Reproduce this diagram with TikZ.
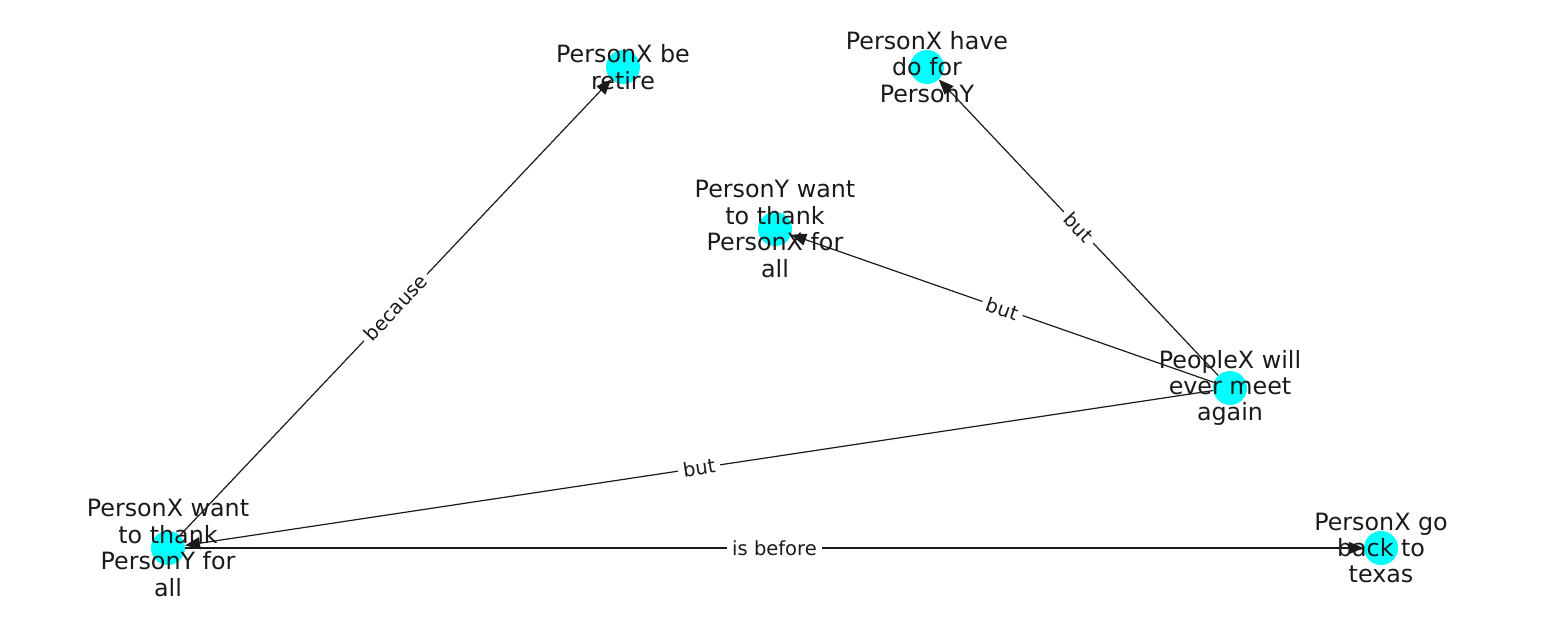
\documentclass[tikz,border=0pt]{standalone}
\usepackage{fontspec}
\setmainfont{DejaVu Sans}
\usetikzlibrary{arrows.meta}
\definecolor{aqua}{RGB}{0,255,255}
\definecolor{ink}{RGB}{26,26,26}
\begin{document}
\begin{tikzpicture}[x=1pt,y=-1pt,
  dot/.style={circle,fill=aqua,draw=none,minimum size=34pt,inner sep=0pt},
  lbl/.style={align=center,text=ink,font=\fontsize{23.8}{26.4}\selectfont,inner sep=0pt},
  rel/.style={draw=ink,line width=1.2pt,-{Triangle[length=15pt,width=12pt]}},
  rellbl/.style={sloped,fill=white,inner sep=5pt,text=ink,font=\fontsize{19.5}{22}\selectfont}]
\useasboundingbox (0,0) rectangle (1550,616);
% nodes
\node[dot] (retire) at (623,67) {};
\node[dot] (havedo) at (927,67) {};
\node[dot] (ythank) at (775,229) {};
\node[dot] (meet) at (1230,388) {};
\node[dot] (xthank) at (168,548) {};
\node[dot] (texas) at (1381,548) {};
% edges
\draw[rel] (xthank) -- node[rellbl] {because} (retire);
\draw[rel] (meet) -- node[rellbl] {but} (havedo);
\draw[rel] (meet) -- node[rellbl] {but} (ythank);
\draw[rel] (meet) -- node[rellbl] {but} (xthank);
\draw[rel] (xthank) -- node[rellbl] {is before} (texas);
% labels
\node[lbl] at (retire) {PersonX be\\retire};
\node[lbl] at (havedo) {PersonX have\\do for\\PersonY};
\node[lbl] at (ythank) {PersonY want\\to thank\\PersonX for\\all};
\node[lbl] at (meet) {PeopleX will\\ever meet\\again};
\node[lbl] at (xthank) {PersonX want\\to thank\\PersonY for\\all};
\node[lbl] at (texas) {PersonX go\\back to\\texas};
\end{tikzpicture}
\end{document}
